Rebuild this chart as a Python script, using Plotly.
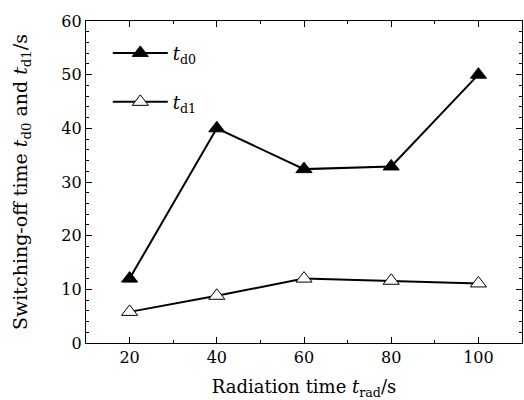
import plotly.graph_objects as go

radiation_time = [20, 40, 60, 80, 100]
td0_values = [12, 40, 32.4, 32.9, 50]
td1_values = [5.8, 8.8, 12.0, 11.6, 11.1]
x_ticks = [20, 40, 60, 80, 100]
y_ticks = [0, 10, 20, 30, 40, 50, 60]

FONT = "DejaVu Serif"

fig = go.Figure()
fig.add_trace(go.Scatter(
    x=radiation_time, y=td0_values, mode="lines+markers",
    name="<i>t</i><sub>d0</sub>", legend="legend",
    line=dict(color="black", width=2),
    marker=dict(symbol="triangle-up", size=14, color="black",
                line=dict(color="black", width=1)),
))
fig.add_trace(go.Scatter(
    x=radiation_time, y=td1_values, mode="lines+markers",
    name="<i>t</i><sub>d1</sub>", legend="legend2",
    line=dict(color="black", width=2),
    marker=dict(symbol="triangle-up", size=14, color="white",
                line=dict(color="black", width=1)),
))

axis_common = dict(
    showgrid=False, zeroline=False, showline=True, linecolor="black",
    linewidth=1.3, mirror="allticks", ticks="inside", ticklen=6,
    tickwidth=1, tickcolor="black",
    tickfont=dict(family=FONT, size=16, color="black"),
)

legend_common = dict(xanchor="left", yanchor="middle",
                     bgcolor="rgba(0,0,0,0)", itemwidth=55,
                     font=dict(family=FONT, size=18, color="black"))

fig.update_layout(
    width=524, height=400,
    margin=dict(l=86, r=2, t=21, b=57),
    paper_bgcolor="white", plot_bgcolor="white",
    font=dict(family=FONT, size=17, color="black"),
    showlegend=True,
    legend=dict(x=0.05, y=0.90, **legend_common),
    legend2=dict(x=0.05, y=0.748, **legend_common),
    xaxis=dict(range=[10, 110], tickvals=x_ticks,
               minor=dict(dtick=10, tick0=10, ticks="inside", ticklen=3,
                          tickcolor="black"),
               title=dict(text="Radiation time <i>t</i><sub>rad</sub>/s",
                          font=dict(family=FONT, size=18), standoff=14),
               **axis_common),
    yaxis=dict(range=[0, 60], tickvals=y_ticks,
               minor=dict(dtick=2, ticks="inside", ticklen=3,
                          tickcolor="black"),
               title=dict(text="Switching-off time <i>t</i><sub>d0</sub> and <i>t</i><sub>d1</sub>/s",
                          font=dict(family=FONT, size=19), standoff=28),
               **axis_common),
)

fig.write_html("out.html", config={"displayModeBar": False},
               post_script="document.body.style.margin='0px';")
